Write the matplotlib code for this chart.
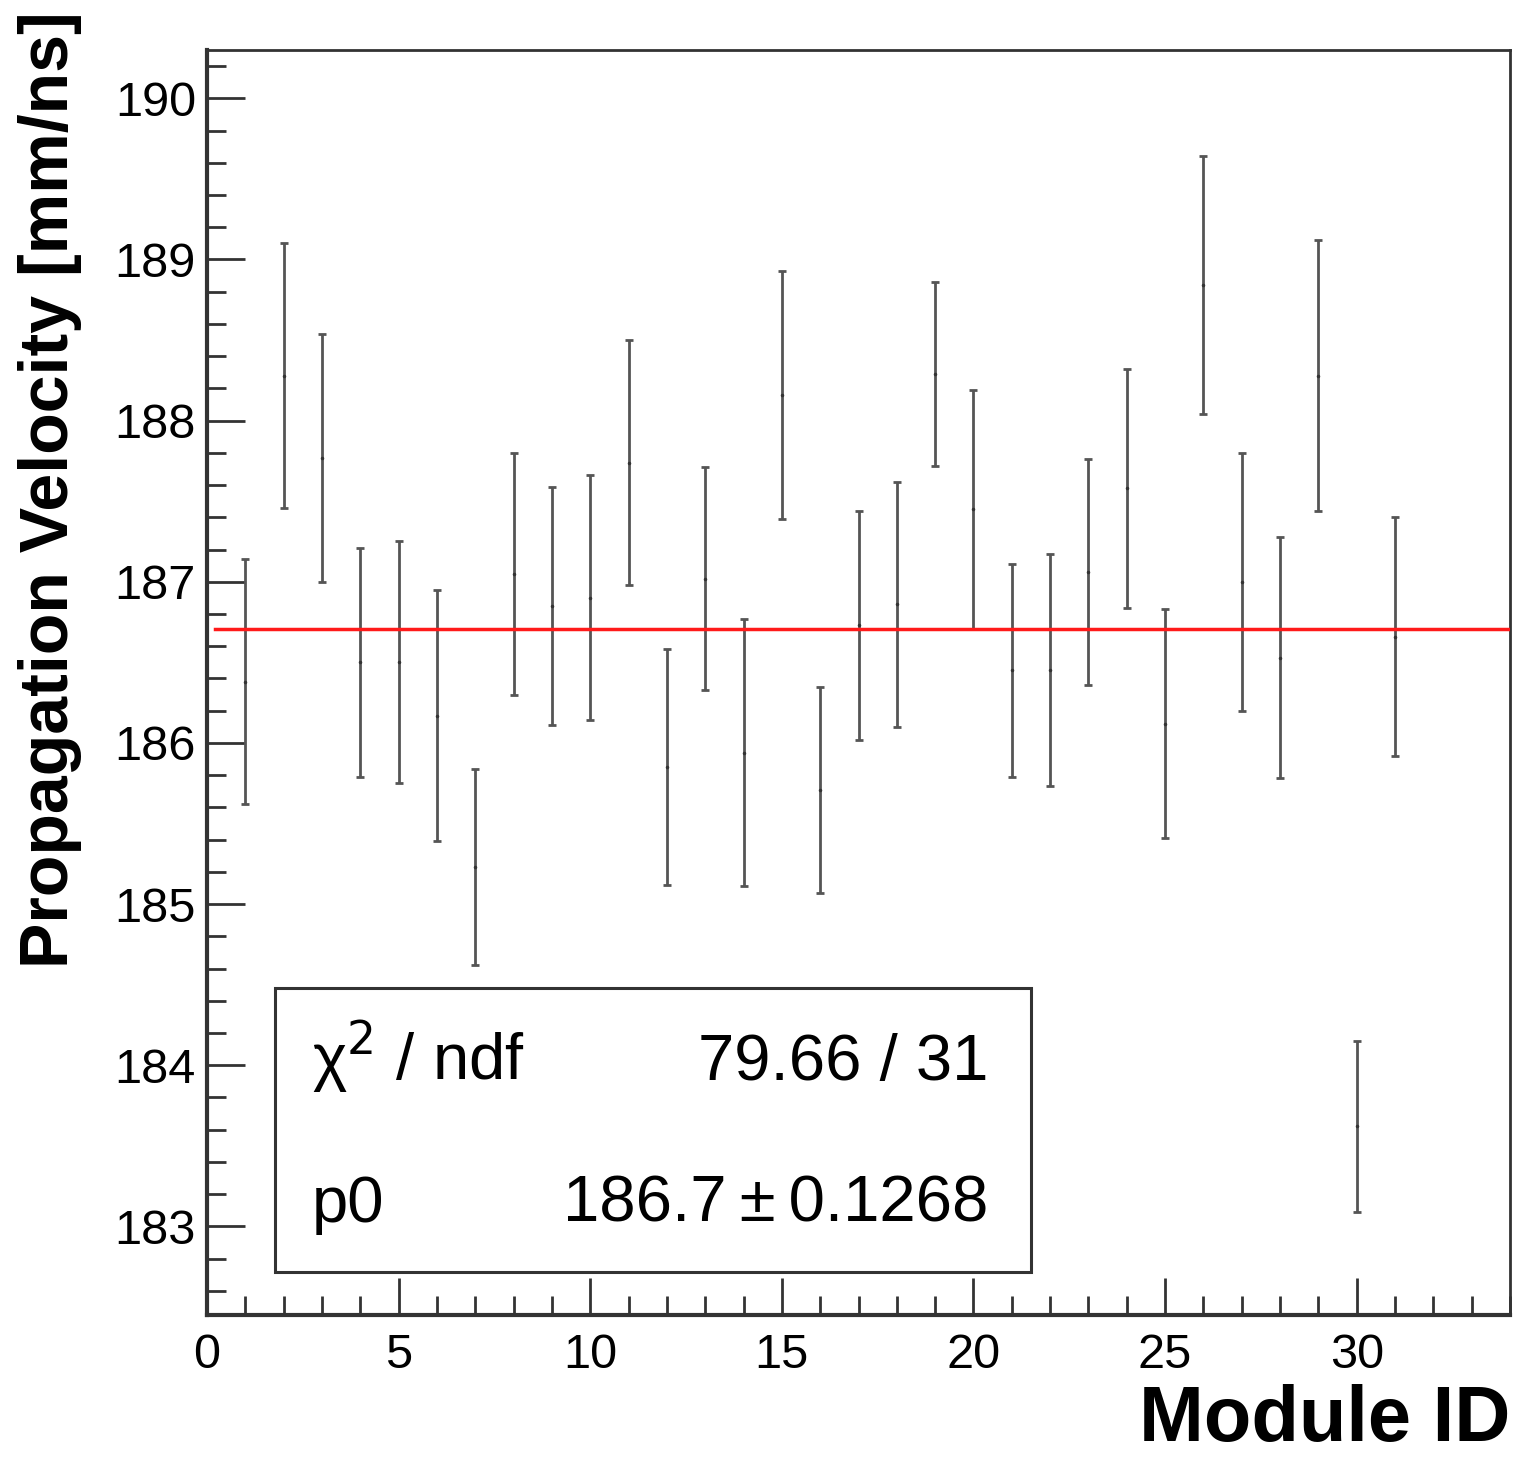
import matplotlib
matplotlib.use("Agg")
import matplotlib.pyplot as plt
from matplotlib.ticker import MultipleLocator, FormatStrFormatter
from matplotlib.patches import Rectangle

plt.rcParams['font.family'] = ['Liberation Sans', 'DejaVu Sans']

module_id = list(range(1, 32))
velocity = [186.38, 188.28, 187.77, 186.50, 186.50, 186.17, 185.23, 187.05, 186.85, 186.90,
            187.74, 185.85, 187.02, 185.94, 188.16, 185.71, 186.73, 186.86, 188.29, 187.45,
            186.45, 186.45, 187.06, 187.58, 186.12, 188.84, 187.00, 186.53, 188.28, 183.62,
            186.66]
vel_err = [0.76, 0.82, 0.77, 0.71, 0.75, 0.78, 0.61, 0.75, 0.74, 0.76,
           0.76, 0.73, 0.69, 0.83, 0.77, 0.64, 0.71, 0.76, 0.57, 0.74,
           0.66, 0.72, 0.70, 0.74, 0.71, 0.80, 0.80, 0.75, 0.84, 0.53,
           0.74]
fit_p0 = 186.71
fit_range = [0.2, 34.0]
stats_rows = [("χ$^{2}$ / ndf", "79.66 / 31"), ("p0", "186.7\u2009±\u20090.1268")]

W, H = 1524, 1457
fig = plt.figure(figsize=(W / 100, H / 100), dpi=100)
ax = fig.add_axes([207 / W, 1 - 1315 / H, (1510 - 207) / W, (1315 - 50) / H])

ax.errorbar(module_id, velocity, yerr=vel_err, fmt='o', ms=1.5, color='#333333',
            ecolor='#555555', elinewidth=2.0, capsize=3, capthick=2.0)
ax.plot(fit_range, [fit_p0, fit_p0], color='#ff1a1a', lw=2.5, zorder=3)

ax.set_xlim(0, 34)
ax.set_ylim(182.45, 190.3)
ax.xaxis.set_major_locator(MultipleLocator(5))
ax.xaxis.set_minor_locator(MultipleLocator(1))
ax.yaxis.set_major_locator(MultipleLocator(1))
ax.yaxis.set_minor_locator(MultipleLocator(0.2))
ax.yaxis.set_major_formatter(FormatStrFormatter('%d'))
ax.tick_params(axis='both', which='both', direction='in', top=False, right=False, color='#333333')
ax.tick_params(axis='both', which='major', length=27, width=2, labelsize=35)
ax.tick_params(axis='both', which='minor', length=14, width=2)
ax.tick_params(axis='y', which='major', pad=8)
ax.tick_params(axis='x', which='major', pad=13)
for s in ax.spines.values():
    s.set_linewidth(2)
    s.set_color('#333333')
ax.spines['left'].set_linewidth(3)
ax.spines['bottom'].set_linewidth(3)

fig.text(1510 / W, 1 - 1441 / H, "Module ID", ha='right', va='baseline',
         fontsize=56, fontweight='bold')
fig.text(50 / W, 1 - 490 / H, "Propagation Velocity [mm/ns]", ha='center', va='center',
         rotation=90, fontsize=49, fontweight='bold')

# stats box
bx0, bx1, by0, by1 = 275, 1031, 988, 1272
fig.patches.append(Rectangle((bx0 / W, 1 - by1 / H), (bx1 - bx0) / W, (by1 - by0) / H,
                             transform=fig.transFigure, fill=True, facecolor='white',
                             edgecolor='#333333', lw=2.2, zorder=5))
row_y = [1080, 1222]
for (lab, val), yy in zip(stats_rows, row_y):
    fig.text(312 / W, 1 - yy / H, lab, ha='left', va='baseline', fontsize=47, zorder=6)
    fig.text(988 / W, 1 - yy / H, val, ha='right', va='baseline', fontsize=47, zorder=6)

fig.savefig("out.png", dpi=100)
